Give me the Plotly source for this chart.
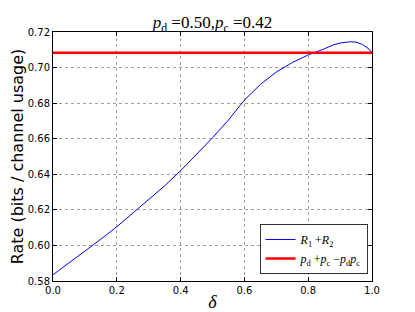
import plotly.graph_objects as go

delta = [0.0, 0.05, 0.1, 0.15, 0.2, 0.25, 0.3, 0.35, 0.4, 0.45, 0.5, 0.55, 0.6,
         0.65, 0.7, 0.75, 0.8, 0.85, 0.88, 0.9, 0.93, 0.95, 0.97, 0.99, 1.0]
rate_sum = [0.5835, 0.5900, 0.5965, 0.6035, 0.6105, 0.6180, 0.6255, 0.6335, 0.6420,
            0.6510, 0.6605, 0.6705, 0.6817, 0.6905, 0.6975, 0.7028, 0.7071, 0.7105,
            0.7128, 0.7138, 0.7145, 0.7143, 0.7130, 0.7105, 0.7084]
bound_x = [0.0, 1.0]
bound_y = [0.7084, 0.7084]

x_ticks = [0.0, 0.2, 0.4, 0.6, 0.8, 1.0]
y_ticks = [0.58, 0.60, 0.62, 0.64, 0.66, 0.68, 0.70, 0.72]

fig = go.Figure()
fig.add_trace(go.Scatter(x=delta, y=rate_sum, mode="lines",
                         line=dict(color="#0000ff", width=1),
                         name="<i>R</i><sub>1</sub> +<i>R</i><sub>2</sub>"))
fig.add_trace(go.Scatter(x=bound_x, y=bound_y, mode="lines",
                         line=dict(color="#ff0000", width=2.5),
                         name="<i>p</i><sub>d</sub> +<i>p</i><sub>c</sub> −<i>p</i><sub>d</sub><i>p</i><sub>c</sub>"))

axis_common = dict(showline=True, linecolor="black", linewidth=1, mirror="ticks",
                   ticks="inside", ticklen=4, tickcolor="black",
                   showgrid=True, gridcolor="#a0a0a0", griddash="dot", gridwidth=1,
                   zeroline=False, tickfont=dict(family="DejaVu Sans", size=10, color="black"))

# the page body has an 8px margin, so margins are shifted to compensate
fig.update_layout(
    width=415, height=312,
    margin=dict(l=44.5, r=50.5, t=24, b=39, autoexpand=False),
    paper_bgcolor="white", plot_bgcolor="white",
    title=dict(text="<i>p</i><sub>d</sub> =0.50,<i>p</i><sub>c</sub> =0.42",
               x=(52.5 + 372.5) / 2 / 415 - 8 / 415, xanchor="center",
               y=1 - (14) / 312, yanchor="middle",
               font=dict(family="Liberation Serif", size=17, color="black")),
    xaxis=dict(range=[0, 1], tickvals=x_ticks, ticktext=[f"{v:.1f}" for v in x_ticks],
               title=dict(text="<i>δ</i>", font=dict(family="Liberation Serif", size=18, color="black"), standoff=0),
               **axis_common),
    yaxis=dict(range=[0.58, 0.72], tickvals=y_ticks, ticktext=[f"{v:.2f}" for v in y_ticks],
               title=dict(text="Rate (bits / channel usage)", font=dict(family="DejaVu Sans", size=16, color="black"), standoff=8),
               **axis_common),
    legend=dict(x=0.986, y=0.028, xanchor="right", yanchor="bottom",
                bordercolor="#333333", borderwidth=1, bgcolor="white",
                font=dict(family="Liberation Serif", size=12, color="black"),
                tracegroupgap=0),
    showlegend=True,
)

fig.write_html("out.html")
